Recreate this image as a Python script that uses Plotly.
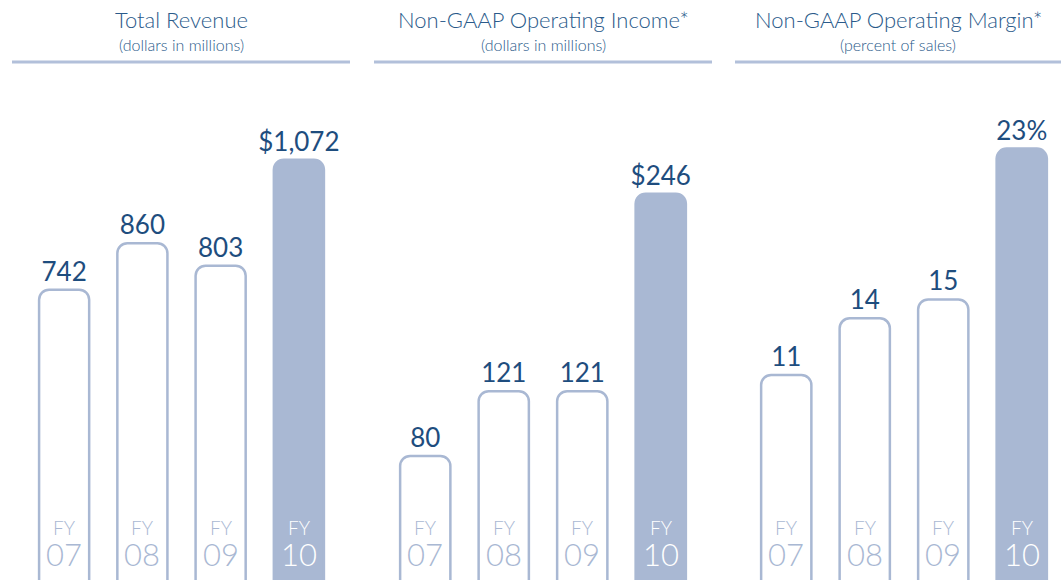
import plotly.graph_objects as go

# ---- data ----
years = ["07", "08", "09", "10"]
revenue = [742, 860, 803, 1072]
op_income = [80, 121, 121, 246]
op_margin = [11, 14, 15, 23]
series = [revenue, op_income, op_margin]
titles = ["Total Revenue", "Non-GAAP Operating Income*", "Non-GAAP Operating Margin*"]
subtitles = ["(dollars in millions)", "(dollars in millions)", "(percent of sales)"]
prefixes = ["$", "$", ""]
suffixes = ["", "", "%"]

# ---- style ----
W, H = 1061, 580
LIGHT = "#A9B8D3"
DARK = "#1E4D7E"
TITLE_C = "#2A5A8A"
FONT = "Lato"
x_domains_px = [(25, 338), (386, 700), (747, 1061)]
y_max = [1477, 368.7, 30.88]
header_px = [(12, 350), (374, 712), (735, 1061)]

fig = go.Figure()
annotations = []
shapes = []

for i, vals in enumerate(series):
    n = len(vals)
    labels = [
        (prefixes[i] + f"{v:,}" + suffixes[i]) if k == n - 1 else f"{v:,}"
        for k, v in enumerate(vals)
    ]
    fills = ["white"] * (n - 1) + [LIGHT]
    ax = "" if i == 0 else str(i + 1)
    fig.add_trace(go.Bar(
        x=years, y=vals, text=labels, textposition="outside",
        constraintext="none",
        textfont=dict(family=FONT, size=26, color=DARK),
        marker=dict(color=fills, line=dict(color=LIGHT, width=2.5), cornerradius=10),
        xaxis="x" + ax, yaxis="y" + ax, cliponaxis=False, hoverinfo="skip",
        showlegend=False,
    ))
    x0, x1 = x_domains_px[i]
    fig.layout["xaxis" + ax] = dict(
        type="category", domain=[x0 / W, x1 / W], showticklabels=False,
        range=[-0.5, n - 0.5],
        showgrid=False, zeroline=False, showline=False, anchor="y" + ax,
    )
    fig.layout["yaxis" + ax] = dict(
        domain=[0, 1], range=[y_max[i] * 0.004, y_max[i]], visible=False,
        anchor="x" + ax,
    )
    # FY labels inside bars (one two-line annotation per bar)
    for k, yr in enumerate(years):
        col = "white" if k == n - 1 else LIGHT
        annotations.append(dict(
            x=k, xref="x" + ax, y=(H - 544) / H, yref="paper",
            text=("<span style='font-size:19px'>FY</span><br>"
                  f"<span style='font-size:31px'>{yr}</span>"),
            showarrow=False, xanchor="center", yanchor="middle", align="center",
            font=dict(family=FONT, size=24, color=col, weight=300),
        ))
    # header
    hx0, hx1 = header_px[i]
    cx = (hx0 + hx1) / 2
    annotations.append(dict(
        x=cx / W, xref="paper", y=(H - 20) / H, yref="paper", text=titles[i],
        showarrow=False, xanchor="center", yanchor="middle",
        font=dict(family=FONT, size=22, color=TITLE_C, weight=300),
    ))
    annotations.append(dict(
        x=cx / W, xref="paper", y=(H - 45) / H, yref="paper", text=subtitles[i],
        showarrow=False, xanchor="center", yanchor="middle",
        font=dict(family=FONT, size=16, color=TITLE_C, weight=300),
    ))
    shapes.append(dict(
        type="line", xref="paper", yref="paper",
        x0=hx0 / W, x1=hx1 / W, y0=(H - 62) / H, y1=(H - 62) / H,
        line=dict(color="#B2C0DA", width=3),
    ))

fig.update_layout(
    width=W, height=H, margin=dict(l=0, r=0, t=0, b=0),
    paper_bgcolor="white", plot_bgcolor="white",
    bargap=0.36, annotations=annotations, shapes=shapes,
)

fig.write_html(
    "out.html",
    config={"displayModeBar": False},
    post_script="document.body.style.margin='0';document.body.style.overflow='hidden';",
)
